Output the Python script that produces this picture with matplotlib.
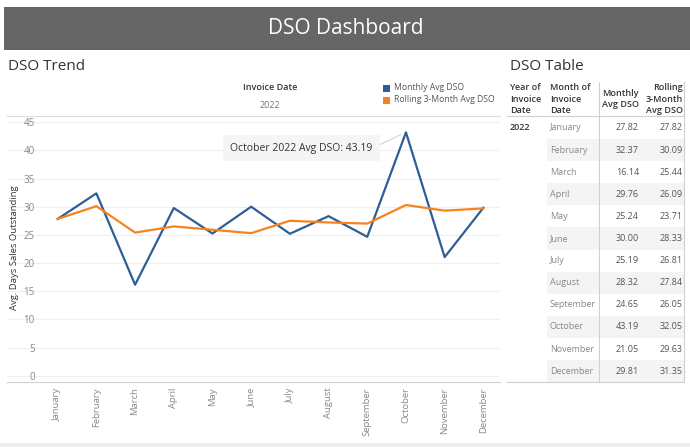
import matplotlib
matplotlib.use("Agg")
import matplotlib.pyplot as plt
from matplotlib.patches import Rectangle
from matplotlib.lines import Line2D

plt.rcParams['font.family'] = ['Open Sans', 'DejaVu Sans']

# data
months = ["January", "February", "March", "April", "May", "June", "July",
          "August", "September", "October", "November", "December"]
monthly_dso = [27.82, 32.37, 16.14, 29.76, 25.24, 30.00, 25.19, 28.32, 24.65, 43.19, 21.05, 29.81]
# rolling values as drawn in the line chart
rolling_line = [27.82, 30.09, 25.4, 26.5, 25.9, 25.3, 27.5, 27.2, 27.0, 30.3, 29.3, 29.7]
# rolling values as printed in the table
rolling_table = [27.82, 30.09, 25.44, 26.09, 23.71, 28.33, 26.81, 27.84, 26.05, 32.05, 29.63, 31.35]
yticks = [0, 5, 10, 15, 20, 25, 30, 35, 40, 45]
year = "2022"

W, H = 690, 447
BLUE = "#2e5e96"
ORANGE = "#f5841f"


def fx(x):
    return x / W


def fy(y):
    return 1 - y / H


fig = plt.figure(figsize=(W / 100, H / 100), dpi=100)

# header band
fig.patches.append(Rectangle((fx(4), fy(49)), fx(686), 42 / H, transform=fig.transFigure,
                             facecolor="#666666", edgecolor="#555555", lw=0.6))
fig.text(fx(346), fy(29), "DSO Dashboard", color="white", fontsize=15,
         ha="center", va="center")
# bottom strip
fig.patches.append(Rectangle((0, 0), 1, 4 / H, transform=fig.transFigure,
                             facecolor="#eeeeee", edgecolor="none"))

# line chart
ax = fig.add_axes([fx(7), fy(381.7), fx(493), (381.7 - 116) / H])
x = list(range(len(months)))
ax.plot(x, monthly_dso, color=BLUE, lw=1.6, zorder=3)
ax.plot(x, rolling_line, color=ORANGE, lw=1.6, zorder=3)
ax.set_xlim(-1.31, 11.43)
ax.set_ylim(-1.07, 46.1)
ax.set_yticks(yticks)
ax.set_yticklabels([str(t) for t in yticks])
ax.tick_params(axis="y", length=0, pad=-20, labelsize=7, labelcolor="#888888")
for lbl in ax.get_yticklabels():
    lbl.set_horizontalalignment("right")
ax.set_xticks(x)
ax.set_xticklabels(months, rotation=90, fontsize=6.8, color="#888888")
ax.tick_params(axis="x", length=0, pad=4)
ax.grid(axis="y", color="#efefef", lw=0.8)
ax.set_axisbelow(True)
for s in ["left", "right"]:
    ax.spines[s].set_visible(False)
ax.spines["top"].set_color("#dddddd")
ax.spines["bottom"].set_color("#d0d0d0")
fig.text(fx(15), fy(248), "Avg. Days Sales Outstanding", rotation=90, fontsize=6.8,
         color="#333333", ha="center", va="center")

ax.annotate("October 2022 Avg DSO: 43.19", xy=(9, monthly_dso[9]), xytext=(6.29, 40.4),
            fontsize=7.5, color="#333333", ha="center", va="center",
            bbox=dict(boxstyle="square,pad=0.7", fc="#f5f5f5", ec="none"),
            arrowprops=dict(arrowstyle="-", color="#cccccc", lw=0.7,
                            relpos=(1, 0.5), shrinkA=0, shrinkB=4))

# chart header texts
fig.text(fx(8), fy(67), "DSO Trend", fontsize=11, color="#333333", va="center")
fig.text(fx(270), fy(88), "Invoice Date", fontsize=6.5, color="#333333",
         ha="center", va="center", fontweight="semibold")
fig.text(fx(270), fy(105), year, fontsize=6.5, color="#777777", ha="center", va="center")
for i, (lab, c) in enumerate([("Monthly Avg DSO", BLUE), ("Rolling 3-Month Avg DSO", ORANGE)]):
    yy = 88 + i * 12
    fig.patches.append(Rectangle((fx(383), fy(yy + 3.5)), 7 / W, 7 / H,
                                 transform=fig.transFigure, facecolor=c, edgecolor="none"))
    fig.text(fx(394), fy(yy), lab, fontsize=6.2, color="#555555", va="center")

# table
hdr = dict(fontsize=6.5, color="#333333", va="center", fontweight="semibold", linespacing=1.3)
fig.text(fx(510), fy(66), "DSO Table", fontsize=11, color="#333333", va="center")
fig.text(fx(510), fy(99), "Year of\nInvoice\nDate", **hdr)
fig.text(fx(550), fy(99), "Month of\nInvoice\nDate", **hdr)
fig.text(fx(639), fy(99), "Monthly\nAvg DSO", ha="right", multialignment="center", **hdr)
fig.text(fx(683), fy(99), "Rolling\n3-Month\nAvg DSO", ha="right", multialignment="right", **hdr)
fig.text(fx(510), fy(128), year, fontsize=6.5, color="#333333", va="center",
         fontweight="semibold")

row_h = 22.1
for i, m in enumerate(months):
    yc = 128 + i * row_h
    if i % 2 == 1:
        fig.patches.append(Rectangle((fx(547), fy(yc + row_h / 2)), fx(684 - 547), row_h / H,
                                     transform=fig.transFigure, facecolor="#f4f4f4",
                                     edgecolor="none"))
    fig.text(fx(550), fy(yc), m, fontsize=6.5, color="#888888", va="center")
    fig.text(fx(639), fy(yc), f"{monthly_dso[i]:.2f}", fontsize=6.5, color="#555555",
             va="center", ha="right")
    fig.text(fx(683), fy(yc), f"{rolling_table[i]:.2f}", fontsize=6.5, color="#555555",
             va="center", ha="right")

bottom = 128 + 11.5 * row_h
fig.add_artist(Line2D([fx(599), fx(599)], [fy(82), fy(bottom)], color="#d0d0d0", lw=0.8))
fig.add_artist(Line2D([fx(684), fx(684)], [fy(82), fy(bottom)], color="#d0d0d0", lw=0.8))
fig.add_artist(Line2D([fx(507), fx(684)], [fy(116), fy(116)], color="#d0d0d0", lw=0.8))
fig.add_artist(Line2D([fx(507), fx(684)], [fy(bottom), fy(bottom)], color="#d0d0d0", lw=0.8))

fig.savefig("out.png", dpi=100)
